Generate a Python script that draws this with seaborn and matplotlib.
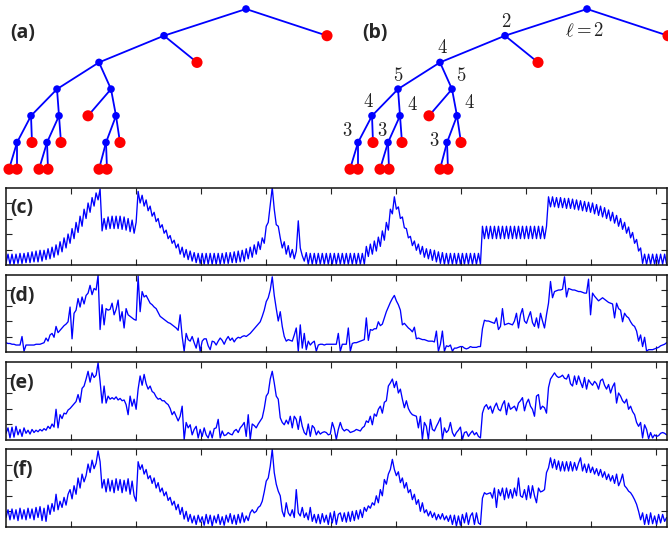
import numpy as np
import pandas as pd
import matplotlib
matplotlib.use("Agg")
import matplotlib.pyplot as plt
import seaborn as sns

# ---- tree (same shape in (a) and (b)) ----
node_x = [246, 164, 327, 99, 197, 57, 111, 31, 59, 88, 116, 17, 32, 47, 61, 106, 120, 9, 17, 39, 48, 99, 107]
node_depth = [0, 1, 1, 2, 2, 3, 3, 4, 4, 4, 4, 5, 5, 5, 5, 5, 5, 6, 6, 6, 6, 6, 6]
node_parent = [-1, 0, 0, 1, 1, 3, 3, 5, 5, 6, 6, 7, 7, 8, 8, 10, 10, 11, 11, 13, 13, 15, 15]
node_leaf = [0, 0, 1, 0, 1, 0, 0, 0, 0, 1, 0, 0, 1, 0, 1, 0, 1, 1, 1, 1, 1, 1, 1]
# level numbers written next to nodes of tree (b)
level_nodes = [1, 3, 5, 6, 7, 8, 10, 11, 13, 15]
level_text = ["2", "4", "5", "5", "4", "4", "4", "3", "3", "3"]

# ---- signals, percent of the panel height ----
sig_c = [2, 14, 1, 14, 1, 14, 2, 15, 2, 15, 3, 16, 3, 17, 4, 18, 4, 19, 5,
         19, 7, 21, 8, 23, 10, 26, 13, 30, 17, 35, 22, 40, 28, 47, 34, 55, 42, 63, 50, 72, 60, 80, 68, 87, 76, 93, 84, 98,
         44, 60, 46, 62, 47, 63, 47, 63, 47, 63, 46, 62, 45, 60, 43, 58, 41, 55,
         95, 80, 90, 76, 84, 70, 76, 63, 68, 56, 60, 48, 52, 41, 45, 34, 38, 28, 32, 22, 27, 14, 23, 10, 20, 7, 18, 5, 16, 3, 15, 2,
         15, 1, 15, 1, 15, 1, 15, 1, 15, 1, 15, 2, 16, 2, 16, 3, 17, 3, 18, 4, 19, 5, 21,
         8, 23, 10, 26, 14, 30, 20, 35, 28,
         50, 55, 78, 100, 72, 52, 50, 35,
         22, 30, 14, 25, 10, 20, 8, 18, 57, 22, 12, 5,
         16, 1, 15, 1, 15, 1, 15, 1, 15, 1, 15, 1, 15, 1, 15, 1, 15, 1, 15, 1, 15, 1, 15, 1, 15, 1, 15, 1, 15, 1,
         24, 11, 27, 14, 31, 18, 36, 24, 44, 32, 55, 45, 72, 66, 88, 72, 75, 60, 62, 48, 47, 35, 37, 25, 31, 19, 27, 14, 24, 10,
         21, 8, 20, 6, 19, 4, 17, 2, 16, 1,
         15, 1, 15, 1, 15, 1, 15, 1, 15, 1, 15, 1, 15, 1, 15, 1, 15, 1,
         50, 34, 50, 34, 50, 34, 50, 34, 50, 34, 50, 34, 50, 34, 50, 34, 50, 34, 50, 34, 50, 34, 50, 34, 50, 34, 50, 34,
         50, 34, 50, 34, 50,
         88, 75, 88, 75, 87, 74, 87, 74, 86, 73, 86, 73, 85, 72, 84, 71, 83, 70, 82, 69, 81, 68, 80, 66, 78, 64, 76, 62,
         74, 60, 71, 57, 68, 54, 64, 50, 60, 46, 55, 41, 49, 35, 42, 28, 33, 18, 22, 2, 14, 1,
         14, 1, 14, 1, 14, 1, 14, 1, 14, 1]

sig_d = [12, 11, 11, 10, 10, 9, 9, 9, 20, 1, 9, 9, 9, 9, 9, 10, 10, 10, 11, 12,
         18, 14, 22, 24, 19, 33, 25, 28, 31, 34, 36, 39, 58, 17, 50, 54, 69, 58, 71, 62,
         73, 76, 86, 74, 82, 80, 99, 29, 61, 35, 56, 54, 55, 63, 48, 55, 67, 40, 52, 31,
         56, 48, 46, 44, 42, 41, 98, 52, 78, 71, 73, 68, 63, 61, 58, 56, 51, 46, 44, 42,
         40, 38, 37, 35, 33, 31, 28, 48, 20, 1, 24, 16, 14, 20, 12, 5, 18, 1, 14, 17,
         17, 8, 3, 14, 13, 9, 14, 18, 15, 10, 16, 20, 15, 18, 13, 17, 19, 18, 20, 21,
         20, 22, 24, 27, 30, 33, 36, 39, 46, 54, 65, 70, 80, 97, 73, 56, 40, 52, 33, 20,
         14, 16, 15, 14, 22, 31, 1, 35, 5, 24, 3, 14, 9, 12, 14, 1, 9, 10, 10, 9,
         10, 10, 10, 10, 10, 10, 24, 1, 10, 10, 10, 31, 1, 11, 12, 12, 13, 14, 15, 16,
         44, 15, 29, 28, 30, 30, 39, 34, 36, 44, 52, 58, 64, 69, 73, 66, 61, 54, 35, 37,
         34, 31, 29, 26, 32, 17, 18, 17, 16, 16, 15, 14, 14, 14, 13, 27, 1, 10, 27, 1,
         8, 7, 9, 1, 5, 5, 6, 7, 7, 5, 4, 5, 7, 6, 6, 6, 7, 7, 30, 41,
         40, 40, 39, 38, 37, 44, 29, 33, 56, 35, 36, 37, 36, 35, 40, 50, 31, 48, 56, 40,
         37, 45, 52, 38, 33, 44, 31, 50, 40, 31, 48, 63, 91, 70, 78, 79, 80, 80, 81, 97,
         71, 82, 81, 80, 80, 79, 78, 78, 77, 76, 76, 94, 48, 76, 72, 69, 66, 68, 70, 68,
         66, 64, 63, 62, 44, 63, 56, 54, 39, 50, 46, 44, 39, 35, 33, 27, 14, 22, 7, 19,
         1, 3, 3, 3, 4, 5, 6, 8, 9, 10, 12]

sig_e = [8, 15, 2, 16, 3, 17, 6, 13, 4, 15, 8, 12, 7, 13, 9, 12, 10, 13, 11, 14,
         12, 17, 14, 20, 16, 39, 15, 32, 27, 34, 33, 38, 40, 43, 46, 49, 58, 48, 66, 69,
         78, 88, 74, 86, 80, 83, 99, 75, 47, 69, 47, 56, 52, 54, 52, 55, 51, 53, 50, 51,
         45, 32, 56, 43, 52, 39, 65, 82, 70, 84, 72, 65, 69, 62, 60, 55, 52, 53, 50, 50,
         47, 45, 40, 32, 36, 30, 24, 30, 43, 0, 22, 15, 19, 6, 13, 17, 2, 13, 4, 15,
         6, 2, 11, 2, 14, 15, 26, 2, 11, 5, 6, 9, 7, 6, 11, 13, 9, 15, 18, 22,
         4, 32, 0, 20, 18, 15, 20, 24, 28, 40, 56, 60, 78, 88, 73, 56, 52, 28, 22, 19,
         25, 20, 30, 15, 30, 26, 13, 30, 17, 9, 6, 20, 4, 18, 15, 6, 11, 7, 9, 10,
         9, 6, 7, 22, 14, 0, 13, 22, 14, 11, 13, 12, 9, 10, 11, 13, 12, 11, 15, 17,
         24, 22, 30, 19, 33, 30, 39, 43, 34, 48, 50, 69, 73, 78, 67, 75, 60, 65, 52, 41,
         50, 40, 35, 32, 31, 30, 15, 30, 0, 22, 17, 0, 26, 13, 11, 17, 22, 28, 0, 15,
         9, 12, 22, 9, 4, 9, 12, 16, 0, 9, 10, 4, 8, 11, 6, 9, 4, 2, 34, 42,
         45, 39, 43, 34, 42, 47, 39, 37, 45, 50, 32, 47, 39, 41, 43, 37, 47, 50, 54, 37,
         47, 52, 43, 39, 30, 56, 58, 39, 43, 41, 34, 67, 78, 82, 86, 82, 80, 81, 83, 79,
         78, 84, 72, 69, 82, 71, 82, 74, 67, 80, 65, 77, 73, 70, 75, 72, 65, 76, 78, 70,
         65, 71, 60, 68, 73, 47, 60, 56, 50, 47, 52, 39, 43, 36, 32, 22, 17, 22, 2, 19,
         13, 1, 9, 2, 6, 4, 5, 8, 9, 8, 6]

sig_f = [12, 22, 9, 23, 10, 22, 8, 24, 10, 22, 9, 24, 11, 23, 9, 25, 12, 26, 8, 24,
         7, 28, 16, 30, 20, 42, 22, 33, 25, 38, 28, 42, 48, 36, 53, 42, 63, 50, 68, 58,
         66, 81, 70, 86, 75, 82, 98, 84, 50, 61, 45, 62, 46, 60, 44, 62, 47, 61, 44, 60,
         46, 62, 42, 59, 40, 33, 84, 74, 80, 68, 74, 62, 66, 56, 63, 50, 57, 45, 50, 40,
         45, 34, 38, 28, 33, 22, 29, 16, 25, 10, 20, 7, 16, 5, 14, 3, 15, 6, 13, 2,
         16, 4, 15, 1, 14, 5, 16, 3, 13, 2, 15, 6, 17, 4, 15, 3, 16, 5, 18, 6,
         14, 8, 18, 22, 18, 20, 25, 27, 33, 45, 59, 63, 78, 100, 70, 55, 46, 40, 20, 13,
         31, 18, 14, 22, 12, 48, 18, 14, 25, 12, 18, 9, 25, 7, 16, 5, 16, 4, 17, 6,
         15, 3, 18, 5, 20, 3, 16, 18, 7, 18, 6, 19, 7, 20, 8, 21, 10, 22, 12, 25,
         20, 27, 24, 31, 28, 40, 31, 48, 40, 61, 55, 68, 74, 87, 74, 66, 71, 57, 63, 50,
         57, 44, 48, 35, 42, 29, 35, 20, 31, 18, 22, 14, 20, 12, 18, 9, 16, 10, 17, 9,
         14, 7, 15, 3, 15, 1, 14, 2, 16, 5, 18, 3, 14, 18, 3, 18, 5, 3, 37, 44,
         42, 43, 44, 37, 50, 25, 48, 40, 50, 35, 50, 37, 48, 37, 50, 40, 63, 40, 38, 48,
         35, 53, 37, 53, 40, 31, 50, 45, 46, 48, 70, 76, 89, 76, 87, 74, 85, 72, 84, 72,
         84, 72, 84, 72, 83, 73, 82, 89, 72, 81, 70, 81, 70, 77, 68, 75, 66, 74, 64, 71,
         61, 68, 59, 66, 56, 68, 53, 59, 68, 53, 50, 46, 44, 40, 35, 29, 20, 9, 18, 3,
         16, 3, 18, 4, 14, 3, 16, 5, 16, 7, 12]

panel_names = ["(c)", "(d)", "(e)", "(f)"]
signals = [sig_c, sig_d, sig_e, sig_f]

BLUE = "#0000ff"
RED = "#ff0000"
W, H = 668, 534

sns.set_style("white")
plt.rcParams["font.family"] = ["Open Sans", "DejaVu Sans"]
plt.rcParams["mathtext.fontset"] = "cm"

fig = plt.figure(figsize=(W / 100, H / 100), dpi=100)


def draw_tree(ax, dx, with_levels):
    xs = [x + dx for x in node_x]
    for i, p in enumerate(node_parent):
        if p >= 0:
            ax.plot([xs[p], xs[i]], [node_depth[p], node_depth[i]], color=BLUE, lw=1.3, zorder=1)
    nodes = pd.DataFrame({"x": xs, "depth": node_depth,
                          "kind": ["leaf" if l else "node" for l in node_leaf]})
    sns.scatterplot(data=nodes, x="x", y="depth", hue="kind", size="kind",
                    palette={"node": BLUE, "leaf": RED}, sizes={"node": 30, "leaf": 64},
                    linewidth=0, legend=False, zorder=3, clip_on=False, ax=ax)
    if with_levels:
        offsets = [(1, 14), (2, 14), (0, 13), (9, 13), (-4, 14), (12, 11), (12, 13),
                   (-11, 11), (-6, 11), (-13, 1)]
        for n, txt, off in zip(level_nodes, level_text, offsets):
            ax.annotate("$" + txt + "$", (xs[n], node_depth[n]), xytext=off,
                        textcoords="offset pixels", ha="center", va="center",
                        fontsize=13.5, color="#222222")
        ax.annotate(r"$\ell = 2$", (xs[0], node_depth[0]), xytext=(-2, -22),
                    textcoords="offset pixels", ha="center", va="center",
                    fontsize=13.5, color="#222222")


# top: the two trees
tree_h = 180
ax_t = fig.add_axes([0, 1 - tree_h / H, 1, tree_h / H])
draw_tree(ax_t, 0, False)
draw_tree(ax_t, 341, True)
ax_t.set_xlim(0, W)
ax_t.set_ylim((tree_h - 9) / 26.7, -9 / 26.7)
ax_t.axis("off")

fig.text(23 / W, 1 - 33 / H, "(a)", fontsize=14, fontweight="bold", ha="center", va="center")
fig.text(375 / W, 1 - 33 / H, "(b)", fontsize=14, fontweight="bold", ha="center", va="center")

# bottom: four signal panels
panel_tops = [187.5, 274.5, 362, 449.3]
panel_h = 77.5
left, right = 6, 667
for name, vals, top in zip(panel_names, signals, panel_tops):
    ax = fig.add_axes([left / W, 1 - (top + panel_h) / H, (right - left) / W, panel_h / H])
    df = pd.DataFrame({"t": np.arange(len(vals)) * 3.08, "v": vals})
    sns.lineplot(data=df, x="t", y="v", color=BLUE, lw=0.95, estimator=None, sort=False, ax=ax)
    ax.set_xlim(0, 1017)
    ax.set_ylim(0, 100)
    ax.set_xticks(range(100, 1001, 100))
    ax.set_yticks([20, 40, 60, 80])
    ax.tick_params(direction="in", top=True, right=True, bottom=True, left=True,
                   labelbottom=False, labelleft=False, length=4.5, width=0.8, color="#222222")
    ax.set_xlabel("")
    ax.set_ylabel("")
    for s in ax.spines.values():
        s.set_color("#111111")
        s.set_linewidth(1.1)
    fig.text(22 / W, 1 - (top + 21) / H, name, fontsize=14, fontweight="bold",
             ha="center", va="center")

fig.savefig("out.png", dpi=100)
